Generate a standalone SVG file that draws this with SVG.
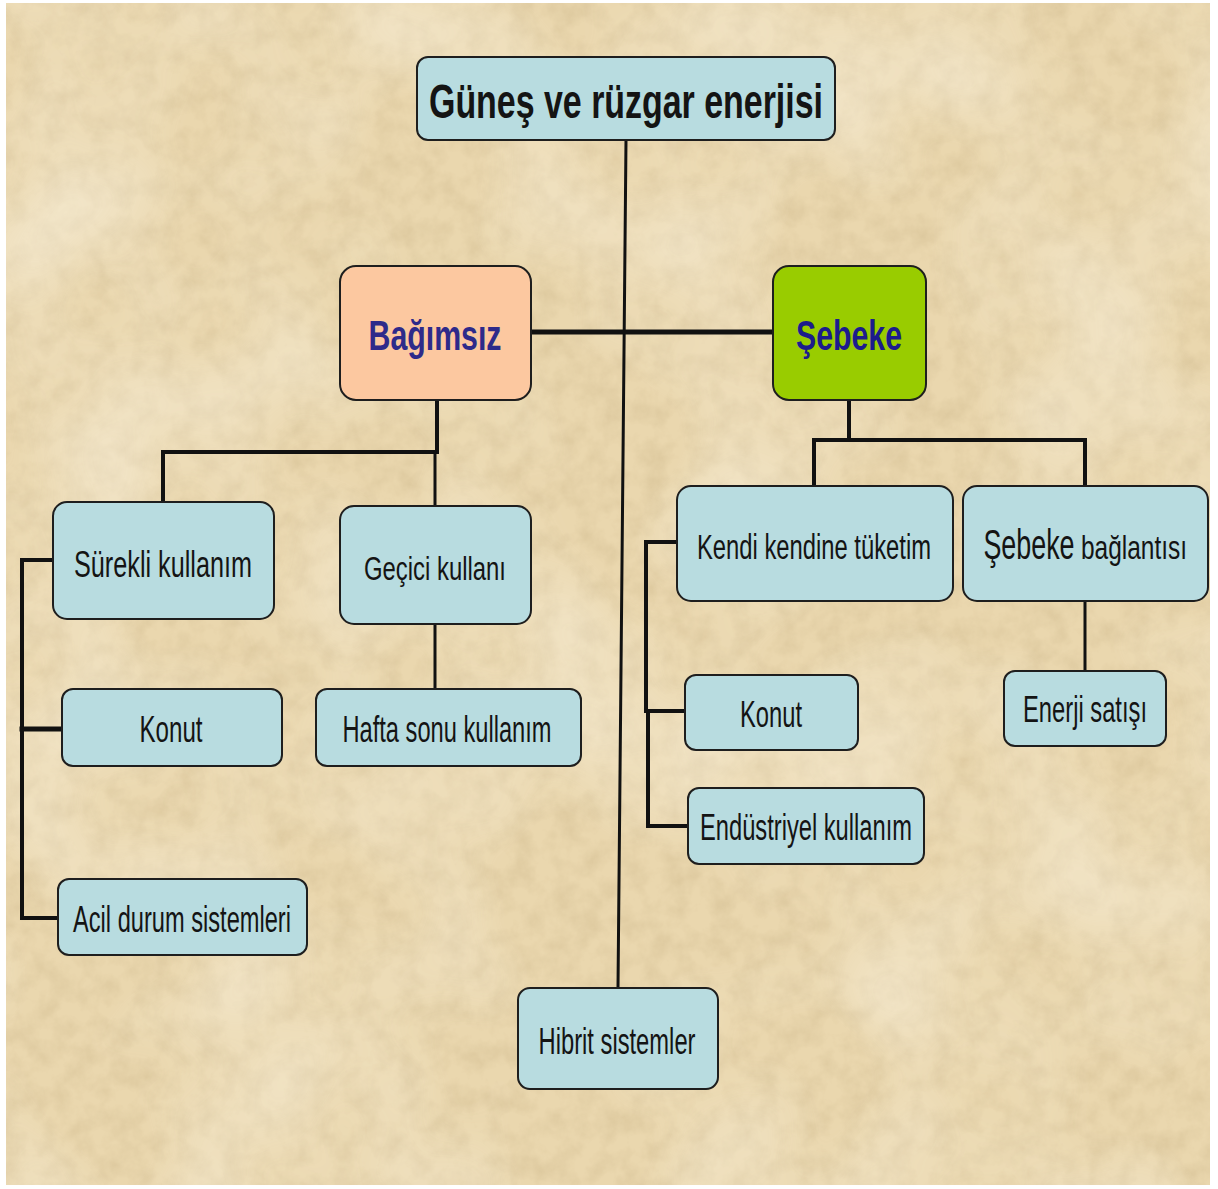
<svg xmlns="http://www.w3.org/2000/svg" width="1218" height="1189" viewBox="0 0 1218 1189">
  <defs>
    <filter id="paper" x="0" y="0" width="100%" height="100%">
      <feTurbulence type="fractalNoise" baseFrequency="0.045" numOctaves="4" seed="7" result="n"/>
      <feColorMatrix in="n" type="matrix" values="0 0 0 0 0.55  0 0 0 0 0.42  0 0 0 0 0.22  0 0 0 -1.6 1.05" result="dark"/>
      <feComposite in="dark" in2="SourceGraphic" operator="in"/>
    </filter>
    <filter id="paper2" x="0" y="0" width="100%" height="100%">
      <feTurbulence type="fractalNoise" baseFrequency="0.006" numOctaves="2" seed="3" result="n"/>
      <feColorMatrix in="n" type="matrix" values="0 0 0 0 1  0 0 0 0 0.97  0 0 0 0 0.88  0 0 0 1.4 -0.55"/>
      <feComposite in2="SourceGraphic" operator="in"/>
    </filter>
  </defs>
  <style>
    .box { stroke: #1e1e1e; stroke-width: 2; }
    .blue { fill: #B8DCE0; }
    .ln { fill: none; stroke: #111; stroke-linecap: square; }
    .t { font-family: "Liberation Sans", Arial, sans-serif; fill: #141414; text-anchor: middle; }
    .b { font-weight: bold; }
  </style>
  <rect width="1218" height="1189" fill="#ffffff"/>
  <rect x="6" y="3" width="1204" height="1182" fill="#EAD7AE"/>
  <rect x="6" y="3" width="1204" height="1182" fill="#EAD7AE" filter="url(#paper)" opacity="0.35"/>
  <rect x="6" y="3" width="1204" height="1182" fill="#fff" filter="url(#paper2)" opacity="0.6"/>

  <g id="connectors">
    <line class="ln" x1="626" y1="140" x2="618" y2="988" stroke-width="3"/>
    <line class="ln" x1="531" y1="332" x2="773" y2="332" stroke-width="5"/>
    <polyline class="ln" points="437,400 437,452 163,452 163,502" stroke-width="4"/>
    <line class="ln" x1="435" y1="452" x2="435" y2="506" stroke-width="3"/>
    <line class="ln" x1="435" y1="624" x2="435" y2="689" stroke-width="3"/>
    <polyline class="ln" points="53,560 22,560 22,918 58,918" stroke-width="4"/>
    <line class="ln" x1="22" y1="729" x2="62" y2="729" stroke-width="5"/>
    <polyline class="ln" points="849,400 849,440 814,440 814,486" stroke-width="4"/>
    <polyline class="ln" points="849,440 1085,440 1085,486" stroke-width="4"/>
    <line class="ln" x1="1085" y1="601" x2="1085" y2="671" stroke-width="3"/>
    <polyline class="ln" points="677,542 646,542 646,711 685,711" stroke-width="4"/>
    <polyline class="ln" points="648,711 648,826 688,826" stroke-width="4"/>
  </g>

  <g id="n-title">
    <rect class="box blue" x="417" y="57" width="418" height="83" rx="11"/>
    <text class="t b" x="626" y="118" font-size="48" textLength="394" lengthAdjust="spacingAndGlyphs">Güneş ve rüzgar enerjisi</text>
  </g>
  <g id="n-bagimsiz">
    <rect class="box" x="340" y="266" width="191" height="134" rx="16" fill="#FCC8A0"/>
    <text class="t b" x="435" y="350" font-size="42" style="fill:#2E2A8A" textLength="133" lengthAdjust="spacingAndGlyphs">Bağımsız</text>
  </g>
  <g id="n-sebeke">
    <rect class="box" x="773" y="266" width="153" height="134" rx="16" fill="#99CC00"/>
    <text class="t b" x="849" y="350" font-size="42" style="fill:#1C1C8C" textLength="106" lengthAdjust="spacingAndGlyphs">Şebeke</text>
  </g>
  <g id="n-surekli">
    <rect class="box blue" x="53" y="502" width="221" height="117" rx="14"/>
    <text class="t" x="163" y="577" font-size="37" textLength="178" lengthAdjust="spacingAndGlyphs">Sürekli kullanım</text>
  </g>
  <g id="n-gecici">
    <rect class="box blue" x="340" y="506" width="191" height="118" rx="14"/>
    <text class="t" x="435" y="580" font-size="33" textLength="142" lengthAdjust="spacingAndGlyphs">Geçici kullanı</text>
  </g>
  <g id="n-konut1">
    <rect class="box blue" x="62" y="689" width="220" height="77" rx="11"/>
    <text class="t" x="171" y="742" font-size="36" textLength="63" lengthAdjust="spacingAndGlyphs">Konut</text>
  </g>
  <g id="n-hafta">
    <rect class="box blue" x="316" y="689" width="265" height="77" rx="11"/>
    <text class="t" x="447" y="742" font-size="36" textLength="209" lengthAdjust="spacingAndGlyphs">Hafta sonu kullanım</text>
  </g>
  <g id="n-acil">
    <rect class="box blue" x="58" y="879" width="249" height="76" rx="11"/>
    <text class="t" x="182" y="932" font-size="36" textLength="218" lengthAdjust="spacingAndGlyphs">Acil durum sistemleri</text>
  </g>
  <g id="n-hibrit">
    <rect class="box blue" x="518" y="988" width="200" height="101" rx="12"/>
    <text class="t" x="617" y="1054" font-size="36" textLength="157" lengthAdjust="spacingAndGlyphs">Hibrit sistemler</text>
  </g>
  <g id="n-kendi">
    <rect class="box blue" x="677" y="486" width="276" height="115" rx="14"/>
    <text class="t" transform="translate(814,559) scale(0.661,1)" font-size="36">Kendi kendine tüketim</text>
  </g>
  <g id="n-baglanti">
    <rect class="box blue" x="963" y="486" width="245" height="115" rx="14"/>
    <text class="t" transform="translate(1029,559) scale(0.64,1)" font-size="42">Şebeke</text>
    <text class="t" transform="translate(1134,559) scale(0.72,1)" font-size="34">bağlantısı</text>
  </g>
  <g id="n-konut2">
    <rect class="box blue" x="685" y="675" width="173" height="75" rx="11"/>
    <text class="t" x="771" y="727" font-size="36" textLength="62" lengthAdjust="spacingAndGlyphs">Konut</text>
  </g>
  <g id="n-endustriyel">
    <rect class="box blue" x="688" y="788" width="236" height="76" rx="11"/>
    <text class="t" x="806" y="840" font-size="36" textLength="212" lengthAdjust="spacingAndGlyphs">Endüstriyel kullanım</text>
  </g>
  <g id="n-enerji">
    <rect class="box blue" x="1004" y="671" width="162" height="75" rx="11"/>
    <text class="t" x="1085" y="722" font-size="36" textLength="124" lengthAdjust="spacingAndGlyphs">Enerji satışı</text>
  </g>
</svg>
